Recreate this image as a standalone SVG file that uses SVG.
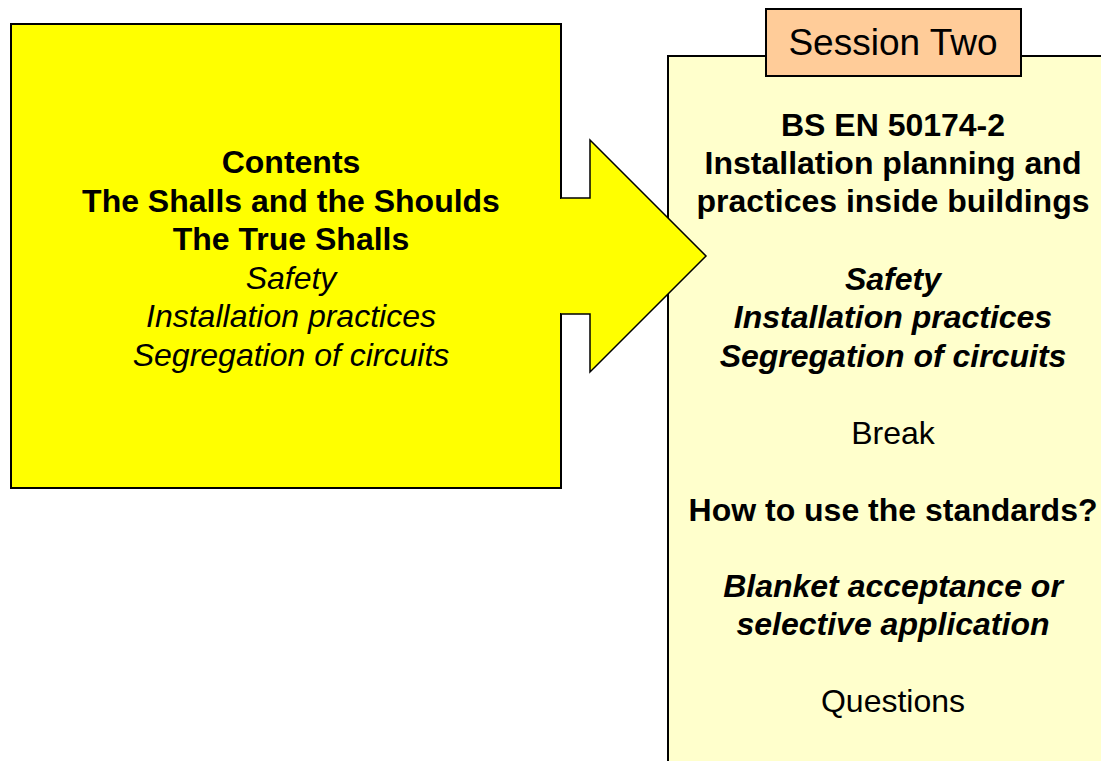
<svg xmlns="http://www.w3.org/2000/svg" width="1101" height="761" viewBox="0 0 1101 761">
  <style>
    .t { font-family: "Liberation Sans", Arial, sans-serif; font-size: 32px; fill: #000; text-anchor: middle; }
    .b { font-weight: bold; }
    .i { font-style: italic; }
    .box { stroke: #000; stroke-width: 2; }
  </style>
  <rect width="1101" height="761" fill="#fff"/>
  <g id="contents">
    <rect class="box" x="11" y="24" width="550" height="464" fill="#ffff00"/>
    <text class="t b" x="291" y="173">Contents</text>
    <text class="t b" x="291" y="212">The Shalls and the Shoulds</text>
    <text class="t b" x="291" y="250">The True Shalls</text>
    <text class="t i" x="291" y="289">Safety</text>
    <text class="t i" x="291" y="327">Installation practices</text>
    <text class="t i" x="291" y="366">Segregation of circuits</text>
  </g>
  <g id="session-two">
    <rect class="box" x="668" y="56" width="440" height="720" fill="#ffffcc"/>
    <rect class="box" x="766" y="9" width="255" height="67" fill="#ffcc99"/>
    <text class="t" x="893" y="55" style="font-size:37px">Session Two</text>
  </g>
  <!-- block arrow sits over the panel edge, beneath the panel's agenda text -->
  <g id="connectors">
    <path d="M561,198 H590 V140 L706,256 L590,372 V314 H561" fill="#ffff00" stroke="#000" stroke-width="1.5" stroke-linejoin="miter"/>
    <rect x="559" y="199" width="3" height="114" fill="#ffff00"/>
  </g>
  <g id="session-two-agenda">
    <text class="t b" x="893" y="136">BS EN 50174-2</text>
    <text class="t b" x="893" y="174">Installation planning and</text>
    <text class="t b" x="893" y="212">practices inside buildings</text>
    <text class="t b i" x="893" y="290">Safety</text>
    <text class="t b i" x="893" y="328">Installation practices</text>
    <text class="t b i" x="893" y="367">Segregation of circuits</text>
    <text class="t" x="893" y="444">Break</text>
    <text class="t b" x="893" y="521">How to use the standards?</text>
    <text class="t b i" x="893" y="597">Blanket acceptance or</text>
    <text class="t b i" x="893" y="635">selective application</text>
    <text class="t" x="893" y="712">Questions</text>
  </g>
</svg>
